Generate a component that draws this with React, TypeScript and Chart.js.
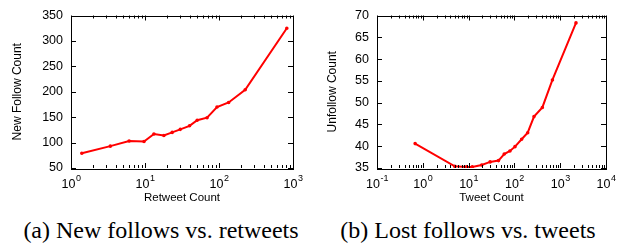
import React, { useEffect, useRef } from "react";
import { Chart, registerables } from "chart.js";

Chart.register(...registerables);

// Panel (a): New follows vs. retweets
const retweetCounts = [1.4, 3.4, 6.1, 9.7, 13.2, 18, 23.3, 30, 40, 50.7, 69, 94, 135, 226, 825];
const newFollows = [79, 93, 103, 102, 117, 114, 120, 126, 133, 144, 149, 170, 179, 204, 325];
const retweetDecades = [0, 1, 2, 3];

// Panel (b): Lost follows vs. tweets
const tweetCounts = [0.68, 5.0, 9, 12, 19.3, 29.5, 45, 60, 80, 103, 144, 195, 268, 408, 676, 2213];
const unfollows = [40.6, 35.4, 35.25, 35.25, 35.7, 36.4, 36.7, 38.2, 38.9, 39.9, 41.6, 43.1, 46.8, 48.9, 55.2, 68.3];
const tweetDecades = [-1, 0, 1, 2, 3, 4];

const FONT = "'Liberation Sans', Arial, sans-serif";

function framePlugin(decades: number[]) {
  return {
    id: "gnuframe",
    afterDatasetsDraw(chart: any) {
      const { ctx, chartArea } = chart;
      const { left, right, top, bottom } = chartArea;
      const xs = chart.scales.x;
      const ys = chart.scales.y;
      ctx.save();
      ctx.strokeStyle = "#000";
      ctx.lineWidth = 1;
      ctx.strokeRect(Math.round(left) + 0.5, Math.round(top) + 0.5, Math.round(right - left), Math.round(bottom - top));
      ctx.beginPath();
      ys.ticks.forEach((t: any) => {
        const py = Math.round(ys.getPixelForValue(t.value)) + 0.5;
        ctx.moveTo(left, py);
        ctx.lineTo(left + 5, py);
        ctx.moveTo(right, py);
        ctx.lineTo(right - 5, py);
      });
      decades.forEach((d, i) => {
        const px = Math.round(xs.getPixelForValue(Math.pow(10, d))) + 0.5;
        ctx.moveTo(px, bottom);
        ctx.lineTo(px, bottom - 5);
        ctx.moveTo(px, top);
        ctx.lineTo(px, top + 5);
        if (i < decades.length - 1) {
          for (let k = 2; k <= 9; k++) {
            const mx = Math.round(xs.getPixelForValue(k * Math.pow(10, d))) + 0.5;
            ctx.moveTo(mx, bottom);
            ctx.lineTo(mx, bottom - 3);
            ctx.moveTo(mx, top);
            ctx.lineTo(mx, top + 3);
          }
        }
      });
      ctx.stroke();
      ctx.fillStyle = "#000";
      ctx.textBaseline = "alphabetic";
      ctx.textAlign = "left";
      decades.forEach((d) => {
        const px = xs.getPixelForValue(Math.pow(10, d));
        ctx.font = `12.5px ${FONT}`;
        const wb = ctx.measureText("10").width;
        ctx.font = `9px ${FONT}`;
        const exp = String(d);
        const we = ctx.measureText(exp).width;
        const sx = px - (wb + we) / 2;
        const by = bottom + 19.5;
        ctx.font = `12.5px ${FONT}`;
        ctx.fillText("10", sx, by);
        ctx.font = `9px ${FONT}`;
        ctx.fillText(exp, sx + wb + 0.5, by - 6.5);
      });
      ctx.restore();
    },
  };
}

function makeConfig(
  xs: number[],
  ys: number[],
  xmin: number,
  xmax: number,
  ymin: number,
  ymax: number,
  ystep: number,
  xTitle: string,
  yTitle: string,
  yWidth: number,
  decades: number[]
): any {
  return {
    type: "line",
    data: {
      datasets: [
        {
          data: xs.map((x, i) => ({ x, y: ys[i] })),
          borderColor: "#ff0000",
          backgroundColor: "#ff0000",
          borderWidth: 2,
          pointRadius: 0.8,
          pointHoverRadius: 0.8,
          tension: 0,
          fill: false,
        },
      ],
    },
    options: {
      responsive: false,
      animation: false,
      events: [],
      layout: { padding: { left: 0, right: 0, top: 10, bottom: 5 } },
      plugins: { legend: { display: false }, tooltip: { enabled: false } },
      scales: {
        x: {
          type: "logarithmic",
          min: xmin,
          max: xmax,
          grid: { display: false, drawTicks: false },
          border: { display: false },
          ticks: { display: false },
          title: {
            display: true,
            text: xTitle,
            color: "#000",
            font: { family: FONT, size: 11.5 },
            padding: 0,
          },
          afterFit: (s: any) => {
            s.height = 37;
          },
        },
        y: {
          type: "linear",
          min: ymin,
          max: ymax,
          grid: { display: false, drawTicks: false },
          border: { display: false },
          ticks: {
            stepSize: ystep,
            color: "#000",
            padding: 8,
            font: { family: FONT, size: 12.5 },
          },
          title: {
            display: true,
            text: yTitle,
            color: "#000",
            font: { family: FONT, size: 12 },
            padding: 0,
          },
          afterFit: (s: any) => {
            s.width = yWidth;
          },
        },
      },
    },
    plugins: [framePlugin(decades)],
  };
}

function Panel(props: { config: any; padLeft: number; padRight: number; width: number; left: number }) {
  const ref = useRef<HTMLCanvasElement>(null);
  useEffect(() => {
    if (!ref.current) return;
    const cfg = props.config;
    cfg.options.layout.padding.left = props.padLeft;
    cfg.options.layout.padding.right = props.padRight;
    const chart = new Chart(ref.current, cfg);
    return () => chart.destroy();
  }, []);
  return (
    <canvas
      ref={ref}
      width={props.width}
      height={210}
      style={{ position: "absolute", left: props.left, top: 0, width: props.width, height: 210 }}
    />
  );
}

const captionStyle = (center: number): React.CSSProperties => ({
  position: "absolute",
  left: center - 170,
  width: 340,
  top: 217,
  textAlign: "center",
  fontFamily: "'Liberation Serif', 'Times New Roman', serif",
  fontSize: 24,
  lineHeight: "normal",
  color: "#000",
  whiteSpace: "nowrap",
});

export default function App() {
  const cfgA = makeConfig(retweetCounts, newFollows, 1, 1000, 50, 350, 50, "Retweet Count", "New Follow Count", 61, retweetDecades);
  const cfgB = makeConfig(tweetCounts, unfollows, 0.1, 10000, 35, 70, 5, "Tweet Count", "Unfollow Count", 52, tweetDecades);
  return (
    <div style={{ position: "absolute", left: 0, top: 0, width: 627, height: 246, background: "#fff", overflow: "hidden" }}>
      <Panel config={cfgA} padLeft={10} padRight={17} width={310} left={0} />
      <Panel config={cfgB} padLeft={15} padRight={21} width={317} left={310} />
      <div style={captionStyle(161)}>(a) New follows vs. retweets</div>
      <div style={captionStyle(468)}>(b) Lost follows vs. tweets</div>
    </div>
  );
}
